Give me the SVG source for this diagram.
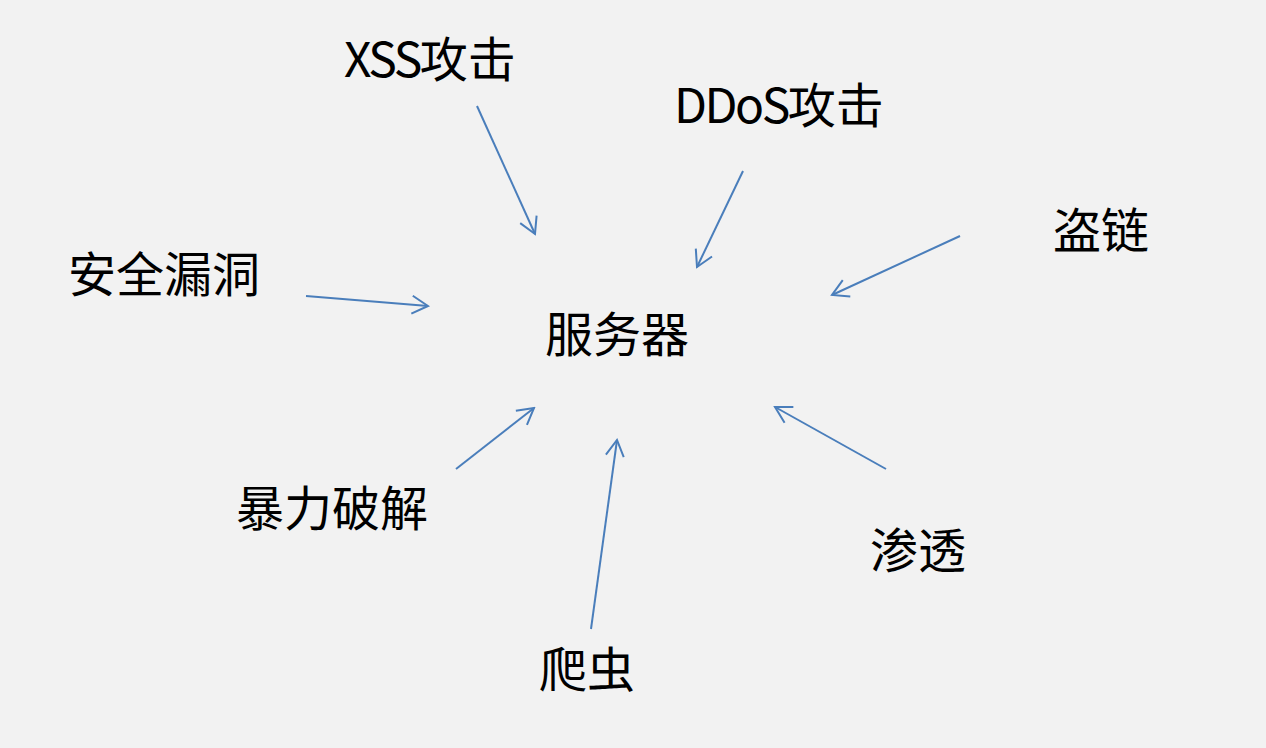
<svg xmlns="http://www.w3.org/2000/svg" width="1266" height="748" viewBox="0 0 1266 748">
<defs>
<style>
.lbl{font-family:"Noto Sans CJK SC","Liberation Sans",sans-serif;font-size:48px;fill:#000;}
.lat{letter-spacing:-2.5px;}
.arr{stroke:#4a7ebb;stroke-width:2;fill:none;marker-end:url(#ah);}
</style>
<marker id="ah" markerUnits="userSpaceOnUse" viewBox="-18 -11 20 22" refX="0" refY="0" markerWidth="20" markerHeight="22" orient="auto">
<path d="M-16,-9 L0,0 L-16,9" fill="none" stroke="#4a7ebb" stroke-width="2"/>
</marker>
</defs>
<rect width="1266" height="748" fill="#f2f2f2"/>
<g id="connectors">
<line class="arr" x1="477" y1="106" x2="535" y2="234"/>
<line class="arr" x1="743" y1="171" x2="697" y2="267"/>
<line class="arr" x1="960" y1="236" x2="832" y2="295"/>
<line class="arr" x1="306" y1="296" x2="428" y2="306"/>
<line class="arr" x1="456" y1="469" x2="534" y2="408"/>
<line class="arr" x1="591" y1="629" x2="617" y2="440"/>
<line class="arr" x1="886" y1="469" x2="775" y2="407"/>
</g>
<g id="server"><text class="lbl" x="545" y="352">服务器</text></g>
<g id="xss"><text class="lbl" x="344" y="77"><tspan class="lat">XSS</tspan>攻击</text></g>
<g id="ddos"><text class="lbl" x="674" y="123"><tspan class="lat">DDoS</tspan>攻击</text></g>
<g id="daolian"><text class="lbl" x="1053" y="248">盗链</text></g>
<g id="loudong"><text class="lbl" x="68" y="292">安全漏洞</text></g>
<g id="baoli"><text class="lbl" x="236" y="526">暴力破解</text></g>
<g id="shentou"><text class="lbl" x="870" y="568">渗透</text></g>
<g id="pachong"><text class="lbl" x="539" y="687">爬虫</text></g>
</svg>
